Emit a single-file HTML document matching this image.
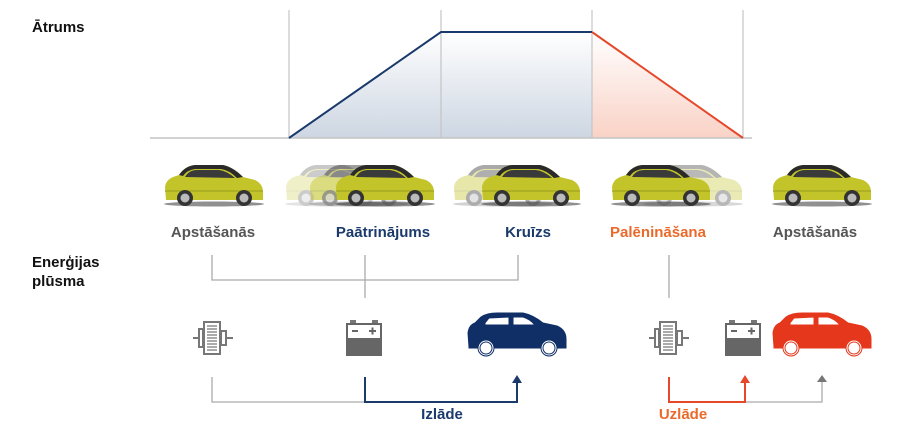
<!DOCTYPE html>
<html><head><meta charset="utf-8"><style>
html,body{margin:0;padding:0;background:#fff;width:900px;height:435px;overflow:hidden}
text{font-family:"Liberation Sans",sans-serif;font-weight:bold}
</style></head><body>
<svg width="900" height="435" viewBox="0 0 900 435" xmlns="http://www.w3.org/2000/svg">
<defs>
<linearGradient id="gb" x1="0" y1="0" x2="0" y2="1"><stop offset="0" stop-color="#fff"/><stop offset="1" stop-color="#cdd6e2"/></linearGradient>
<linearGradient id="gr" x1="0" y1="0" x2="0" y2="1"><stop offset="0" stop-color="#fff"/><stop offset="1" stop-color="#f9d2c6"/></linearGradient>
<g id="ycar">
<ellipse cx="51" cy="41" rx="50" ry="2.5" fill="#222" opacity="0.5"/>
<path d="M3,37 L2,24 Q3,17 10,14 L16,12 Q22,3 32,2 L60,2 Q70,4 80,14 L92,17 Q100,21 100,29 L100,37 Z" fill="#c3c42a"/>
<path d="M16,12 Q22,3 32,2 L60,2 Q70,4 80,14 L74,15 Q66,7 58,6 L32,6 Q24,7 20,13 Z" fill="#2a2a2a"/>
<path d="M22,14 Q26,7 34,7 L56,7 Q64,8 72,15 Z" fill="#3a3a3a"/>
<path d="M2,28 L100,28" stroke="#9a9b1e" stroke-width="1"/>
<circle cx="22" cy="35" r="8" fill="#333"/><circle cx="22" cy="35" r="4.5" fill="#bbb"/>
<circle cx="81" cy="35" r="8" fill="#333"/><circle cx="81" cy="35" r="4.5" fill="#bbb"/>
</g>
<g id="icar">
<path d="M2,34 L1,20 Q2,12 8,10 L14,4 Q20,0 30,0 L56,0 Q66,2 76,10 L90,13 Q99,17 99,26 L99,35 L2,35 Z"/>
<path d="M18,10 L22,5 L42,4 L42,12 L18,12 Z M46,4 L56,4 Q63,6 68,12 L46,12 Z" fill="#fff"/>
<circle cx="19" cy="35" r="8" fill="#fff"/><circle cx="19" cy="35" r="6" fill="none" stroke-width="1"/>
<circle cx="82" cy="35" r="8" fill="#fff"/><circle cx="82" cy="35" r="6" fill="none" stroke-width="1"/>
</g>
<g id="motor" fill="#777" stroke="#777">
<rect x="0" y="17" width="6" height="2" stroke="none"/>
<rect x="6" y="9" width="4" height="18" fill="none" stroke-width="2"/>
<rect x="11" y="2" width="16" height="32" fill="#fff" stroke-width="2"/>
<path d="M14,6 H24 M14,9 H24 M14,12 H24 M14,15 H24 M14,18 H24 M14,21 H24 M14,24 H24 M14,27 H24 M14,30 H24" stroke-width="1.3"/>
<rect x="28" y="11" width="5" height="14" fill="none" stroke-width="2"/>
<rect x="33" y="17" width="7" height="2" stroke="none"/>
</g>
<g id="batt">
<rect x="4" y="0" width="6" height="4" fill="#777"/><rect x="26" y="0" width="6" height="4" fill="#777"/>
<rect x="0" y="3" width="36" height="33" fill="#666"/>
<rect x="2" y="5" width="32" height="13" fill="#fff"/>
<path d="M6,11 H12 M23,11 H30 M26.5,7.5 V14.5" stroke="#666" stroke-width="2"/>
</g>
</defs>

<polygon points="289,138 441,32 441,138" fill="url(#gb)"/>
<rect x="441" y="32" width="151" height="106" fill="url(#gb)"/>
<polygon points="592,32 743,138 592,138" fill="url(#gr)"/>
<g stroke="#c4c4c4" stroke-width="1.2">
<line x1="289" y1="10" x2="289" y2="138"/><line x1="441" y1="10" x2="441" y2="138"/>
<line x1="592" y1="10" x2="592" y2="138"/><line x1="743" y1="10" x2="743" y2="138"/>
<line x1="150" y1="138" x2="752" y2="138" stroke-width="1.5"/>
</g>
<polyline points="289,138 441,32 592,32" fill="none" stroke="#1b3a6c" stroke-width="2"/>
<line x1="592" y1="32" x2="743" y2="138" stroke="#e5482a" stroke-width="2"/>

<text x="32" y="32" font-size="15" fill="#111">Ātrums</text>
<text x="32" y="267" font-size="15" fill="#111">Enerģijas</text>
<text x="32" y="286" font-size="15" fill="#111">plūsma</text>

<use href="#ycar" x="163" y="163"/>
<use href="#ycar" x="284" y="163" opacity="0.25"/>
<use href="#ycar" x="308" y="163" opacity="0.45"/>
<use href="#ycar" x="334" y="163"/>
<use href="#ycar" x="452" y="163" opacity="0.4"/>
<use href="#ycar" x="480" y="163"/>
<use href="#ycar" x="642" y="163" opacity="0.35"/>
<use href="#ycar" x="610" y="163"/>
<use href="#ycar" x="771" y="163"/>

<g font-size="15" text-anchor="middle">
<text x="213" y="237" fill="#555">Apstāšanās</text>
<text x="383" y="237" fill="#1b3a6c">Paātrinājums</text>
<text x="528" y="237" fill="#1b3a6c">Kruīzs</text>
<text x="658" y="237" fill="#ea6a2c">Palēnināšana</text>
<text x="815" y="237" fill="#555">Apstāšanās</text>
</g>

<g stroke="#aaa" stroke-width="1.3" fill="none">
<polyline points="212,255 212,280 518,280 518,255"/>
<line x1="365" y1="255" x2="365" y2="298"/>
<line x1="669" y1="255" x2="669" y2="298"/>
<polyline points="212,377 212,402 365,402"/>
<polyline points="745,402 822,402 822,380"/>
</g>
<polygon points="817,382 827,382 822,375" fill="#777"/>

<use href="#motor" x="193" y="320"/>
<use href="#batt" x="346" y="320"/>
<use href="#icar" x="467" y="313" fill="#0f2f66" stroke="#0f2f66"/>
<use href="#motor" x="649" y="320"/>
<use href="#batt" x="725" y="320"/>
<use href="#icar" x="772" y="313" fill="#e5371c" stroke="#e5371c"/>

<polyline points="365,377 365,402 517,402 517,381" fill="none" stroke="#1b3a6c" stroke-width="2"/>
<polygon points="512,383 522,383 517,375" fill="#1b3a6c"/>
<polyline points="669,377 669,402 745,402 745,381" fill="none" stroke="#e5482a" stroke-width="2"/>
<polygon points="740,383 750,383 745,375" fill="#e5482a"/>

<text x="442" y="419" font-size="15" fill="#1b3a6c" text-anchor="middle">Izlāde</text>
<text x="683" y="419" font-size="15" fill="#ea6a2c" text-anchor="middle">Uzlāde</text>
</svg>
</body></html>
